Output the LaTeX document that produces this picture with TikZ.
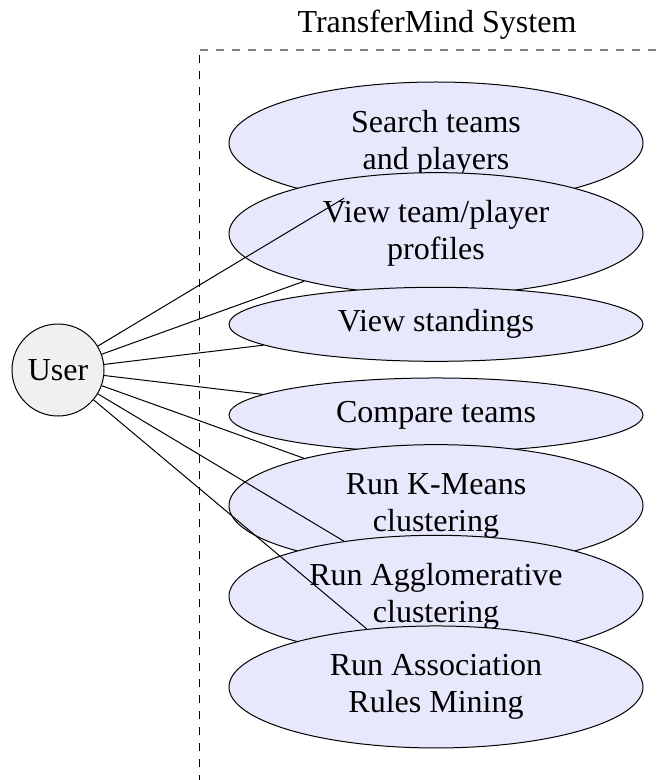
\documentclass[tikz,border=0pt]{standalone}
\usepackage{fontspec}
\setmainfont{Liberation Serif}
\usetikzlibrary{positioning, shapes.geometric}

\definecolor{ucfill}{RGB}{232,232,252}
\definecolor{actorfill}{RGB}{240,240,240}

\begin{document}
\begin{tikzpicture}[
        x=0.5pt, y=-0.5pt,
        node distance=45.33pt, on grid,
        every node/.style={font=\fontsize{16}{18.6}\selectfont},
        actor/.style={draw, circle, fill=actorfill, minimum size=46pt,
                      inner sep=0pt, line width=0.5pt},
        usecase/.style={draw, ellipse, fill=ucfill, align=center,
                        minimum width=207pt, minimum height=61pt,
                        inner sep=0pt, line width=0.5pt},
        shortcase/.style={usecase, minimum height=37pt},
        link/.style={line width=0.5pt}]

      \useasboundingbox (0,0) rectangle (662,780);

      % system boundary
      \draw[gray, dash pattern=on 4pt off 4pt, line width=0.75pt] (200,50) -- (662,50);
      \draw[dash pattern=on 4pt off 4pt, line width=0.5pt] (199,55) -- (199,780);
      \node (sys) at (437,25) {TransferMind System};

      \node[actor] (user) at (58,370) {User};

      \node[usecase] (search) at (436,143) {Search teams\\and players};
      \node[usecase, below=of search] (profile) {View team/player\\profiles};
      \node[shortcase, below=of profile] (stand) {View standings};
      \node[shortcase, below=of stand] (compare) {Compare teams};
      \node[usecase, below=of compare] (kmeans) {Run K-Means\\clustering};
      \node[usecase, below=of kmeans] (agglo) {Run Agglomerative\\clustering};
      \node[usecase, below=of agglo] (rules) {Run Association\\Rules Mining};

      \draw[link] (user) -- (search);
      \draw[link] (user) -- (profile);
      \draw[link] (user) -- (stand);
      \draw[link] (user) -- (compare);
      \draw[link] (user) -- (kmeans);
      \draw[link] (user) -- (agglo);
      \draw[link] (user) -- (rules);
    \end{tikzpicture}
\end{document}
